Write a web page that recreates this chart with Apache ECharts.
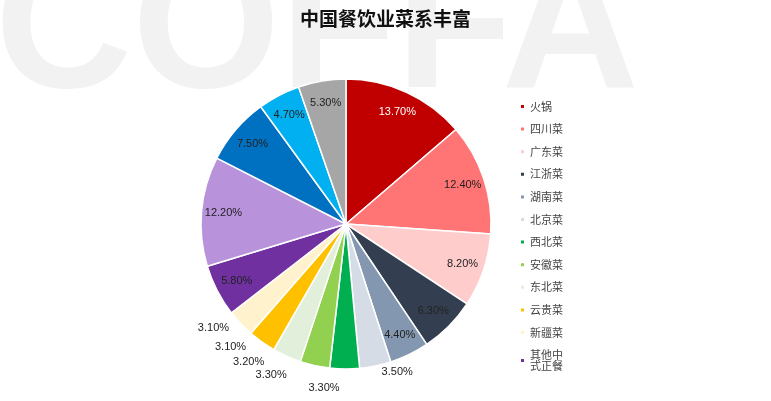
<!DOCTYPE html><html><head><meta charset="utf-8"><script src="https://cdn.jsdelivr.net/npm/echarts@6/dist/echarts.min.js"></script></head><body style="margin:0"><div id="c" style="width:771px;height:401px"></div><script>
const names=['火锅','四川菜','广东菜','江浙菜','湖南菜','北京菜','西北菜','安徽菜','东北菜','云贵菜','新疆菜','其他中\n式正餐','小吃快餐','饮品','西餐','其他'];
const values=[13.7,12.4,8.2,6.3,4.4,3.5,3.3,3.3,3.2,3.1,3.1,5.8,12.2,7.5,4.7,5.3];
const colors=['#c00000','#ff7575','#ffcccc','#333f50','#8497b0','#d6dce5','#00b050','#92d050','#e2efda','#ffc000','#fff2cc','#7030a0','#b992dc','#0070c0','#00b0f0','#a6a6a6'];
const outsideSet=[5,6,7,8,9,10];
const data=names.map((n,i)=>({name:n,value:values[i],itemStyle:{color:colors[i]}}));
const labelData=names.map((n,i)=>({name:n,value:values[i],
 label:outsideSet.includes(i)?{position:'outside'}:{position:'inside',color:i===0?'#fff':'#222'}}));
echarts.init(document.getElementById('c')).setOption({
 animation:false,
 graphic:[{type:'text',left:-5,top:-60,z:-1,style:{text:'COFFA',fontSize:190,fontWeight:'bold',fill:'#f2f2f2',fontFamily:'Arial'}}],
 title:{text:'中国餐饮业菜系丰富',left:'center',top:4,textStyle:{fontSize:19,fontWeight:'bold',color:'#111',fontFamily:'Noto Sans CJK SC'}},
 legend:{orient:'vertical',left:514,top:96,itemWidth:5,itemHeight:5,icon:'rect',itemGap:11.6,
  data:names.slice(0,12),textStyle:{fontSize:11,color:'#444',fontFamily:'Noto Sans CJK SC'}},
 series:[{type:'pie',center:[346,224],radius:[0,145],startAngle:90,clockwise:true,
  itemStyle:{borderColor:'#fff',borderWidth:1.5},label:{show:false},labelLine:{show:false},data},
  {type:'pie',center:[346,224],radius:[95,145],startAngle:90,clockwise:true,silent:true,z:5,
  itemStyle:{color:'transparent'},legendHoverLink:false,
  label:{formatter:p=>p.value.toFixed(2)+'%',fontSize:11,color:'#222',fontFamily:'Liberation Sans'},
  labelLine:{show:false,length:6,length2:0},
  data:labelData}]
});
</script></body></html>
